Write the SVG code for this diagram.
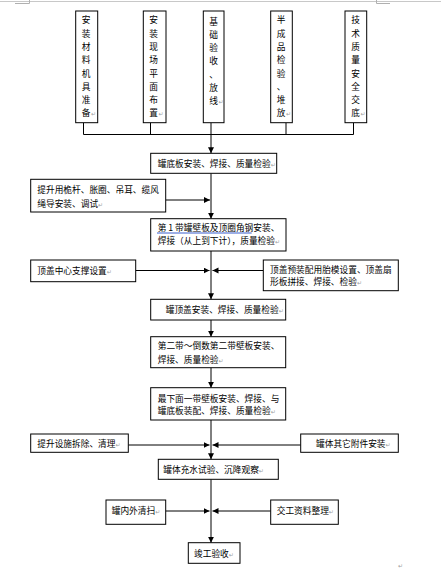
<svg xmlns="http://www.w3.org/2000/svg" width="441" height="576" viewBox="0 0 441 576">
<style>
.box{fill:#fff;stroke:#000;stroke-width:1}
.t{font-family:"Noto Sans CJK SC","Noto Sans CJK JP",sans-serif;font-size:8.7px;fill:#000}
.v{font-family:"Noto Sans CJK SC","Noto Sans CJK JP",sans-serif;font-size:8.7px;fill:#000;text-anchor:middle}
.p{fill:#a0a0a0;font-size:6px;font-family:"DejaVu Sans",sans-serif}
.ln{fill:none;stroke:#000;stroke-width:1}
.arr{fill:none;stroke:#000;stroke-width:1;marker-end:url(#ah)}
</style>
<defs>
<marker id="ah" markerUnits="userSpaceOnUse" markerWidth="8" markerHeight="8" refX="6" refY="3" orient="auto">
<path d="M0,0 L6,3 L0,6 Z" fill="#000"/>
</marker>
</defs>
<rect width="441" height="576" fill="#fff"/>
<g id="page">
<line x1="0" y1="1.5" x2="441" y2="1.5" stroke="#c8c8c8" stroke-width="1"/>
<path d="M15,3.5 H29.5 V0" fill="none" stroke="#b0b0b0" stroke-width="1"/>
<path d="M390,3.5 H376.5 V0" fill="none" stroke="#b0b0b0" stroke-width="1"/>
<text x="398" y="568" class="p">↵</text>
</g>
<g id="connectors">
<path class="ln" d="M83.5,122.7 V134.5 H353.5 V122.7 M150.5,122.7 V134.5 M211,122.7 V134.5 M286,122.7 V134.5"/>
<line class="arr" x1="211" y1="134.5" x2="211" y2="153.3"/>
<line class="arr" x1="211" y1="173.3" x2="211" y2="218.7"/>
<line class="arr" x1="165.7" y1="200" x2="210" y2="200"/>
<line class="arr" x1="211" y1="251" x2="211" y2="299.3"/>
<line class="arr" x1="135.7" y1="270.5" x2="209.5" y2="270.5"/>
<line class="arr" x1="263.3" y1="270.5" x2="212.5" y2="270.5"/>
<line class="arr" x1="211" y1="320" x2="211" y2="336.7"/>
<line class="arr" x1="211" y1="367.7" x2="211" y2="387.7"/>
<line class="arr" x1="211" y1="420" x2="211" y2="459.3"/>
<line class="arr" x1="128.3" y1="445" x2="209.5" y2="445"/>
<line class="arr" x1="300.7" y1="445" x2="212.5" y2="445"/>
<line class="arr" x1="211" y1="479.3" x2="211" y2="542.7"/>
<line class="arr" x1="165.7" y1="511" x2="209.5" y2="511"/>
<line class="arr" x1="270.7" y1="511" x2="212.5" y2="511"/>
</g>
<g id="n1">
<rect class="box" x="75.7" y="11" width="22" height="111.7"/>
<text class="v" x="86.2" y="23.3">安</text><text class="v" x="86.2" y="36.6">装</text><text class="v" x="86.2" y="49.9">材</text><text class="v" x="86.2" y="63.2">料</text><text class="v" x="86.2" y="76.5">机</text><text class="v" x="86.2" y="89.8">具</text><text class="v" x="86.2" y="103.1">准</text><text class="v" x="86.2" y="116.4">备</text>
<text class="p" x="91" y="116.4">↵</text>
</g>
<g id="n2">
<rect class="box" x="143.3" y="11" width="22.7" height="111.7"/>
<text class="v" x="153.5" y="23.3">安</text><text class="v" x="153.5" y="36.6">装</text><text class="v" x="153.5" y="49.9">现</text><text class="v" x="153.5" y="63.2">场</text><text class="v" x="153.5" y="76.5">平</text><text class="v" x="153.5" y="89.8">面</text><text class="v" x="153.5" y="103.1">布</text><text class="v" x="153.5" y="116.4">置</text>
<text class="p" x="158.5" y="116.4">↵</text>
</g>
<g id="n3">
<rect class="box" x="203.3" y="11" width="20.7" height="111.7"/>
<text class="v" x="213.5" y="24.5">基</text><text class="v" x="213.5" y="37.8">础</text><text class="v" x="213.5" y="51.1">验</text><text class="v" x="213.5" y="64.4">收</text><text class="v" x="213.5" y="77.7">、</text><text class="v" x="213.5" y="91">放</text><text class="v" x="213.5" y="103.5">线</text>
<text class="p" x="218.5" y="103.5">↵</text>
</g>
<g id="n4">
<rect class="box" x="270.7" y="11" width="21.6" height="111.7"/>
<text class="v" x="281" y="23.3">半</text><text class="v" x="281" y="36.6">成</text><text class="v" x="281" y="49.9">品</text><text class="v" x="281" y="63.2">检</text><text class="v" x="281" y="76.5">验</text><text class="v" x="281" y="89.8">、</text><text class="v" x="281" y="103.1">堆</text><text class="v" x="281" y="116.4">放</text>
<text class="p" x="286" y="116.4">↵</text>
</g>
<g id="n5">
<rect class="box" x="345" y="11" width="21.7" height="111.7"/>
<text class="v" x="355.5" y="23.3">技</text><text class="v" x="355.5" y="36.6">术</text><text class="v" x="355.5" y="49.9">质</text><text class="v" x="355.5" y="63.2">量</text><text class="v" x="355.5" y="76.5">安</text><text class="v" x="355.5" y="89.8">全</text><text class="v" x="355.5" y="103.1">交</text><text class="v" x="355.5" y="116.4">底</text>
<text class="p" x="360.5" y="116.4">↵</text>
</g>
<g id="n6">
<rect class="box" x="150.7" y="153.3" width="126" height="20"/>
<text class="t" x="157.7" y="166.6">罐底板安装、焊接、质量检验<tspan class="p">↵</tspan></text>
</g>
<g id="n7">
<rect class="box" x="30.7" y="179.3" width="135" height="32.7"/>
<text class="t" x="37.3" y="193.3">提升用桅杆、胀圈、吊耳、缆风</text>
<text class="t" x="37.3" y="206.6">绳导安装、调试<tspan class="p">↵</tspan></text>
</g>
<g id="n8">
<rect class="box" x="150.7" y="218.7" width="135.3" height="32.3"/>
<text class="t" x="157.7" y="231">第 1 带罐壁板及顶圈角钢安装、</text>
<line x1="157" y1="233" x2="251.7" y2="233" stroke="#3a5fcd" stroke-width="1"/>
<text class="t" x="157.7" y="244.3">焊接（从上到下计），质量检验<tspan class="p">↵</tspan></text>
</g>
<g id="n9">
<rect class="box" x="30.7" y="260" width="105" height="21.7"/>
<text class="t" x="37.3" y="274.2">顶盖中心支撑设置<tspan class="p">↵</tspan></text>
</g>
<g id="n10">
<rect class="box" x="263.3" y="260" width="135" height="30.7"/>
<text class="t" x="270" y="272.6">顶盖预装配用胎模设置、顶盖扇</text>
<text class="t" x="270" y="285">形板拼接、焊接、检验<tspan class="p">↵</tspan></text>
</g>
<g id="n11">
<rect class="box" x="150.7" y="299.3" width="135" height="20.7"/>
<text class="t" x="165.7" y="312.5">罐顶盖安装、焊接、质量检验<tspan class="p">↵</tspan></text>
</g>
<g id="n12">
<rect class="box" x="150.7" y="336.7" width="135" height="31"/>
<text class="t" x="157.7" y="349.3">第二带～倒数第二带壁板安装、</text>
<text class="t" x="157.7" y="362.6">焊接、质量检验<tspan class="p">↵</tspan></text>
</g>
<g id="n13">
<rect class="box" x="150.7" y="387.7" width="135" height="32.3"/>
<text class="t" x="157.7" y="401.6">最下面一带壁板安装、焊接、与</text>
<text class="t" x="157.7" y="414.3">罐底板装配、焊接、质量检验<tspan class="p">↵</tspan></text>
</g>
<g id="n14">
<rect class="box" x="30.7" y="434" width="97.6" height="18.3"/>
<text class="t" x="37.3" y="446.6">提升设施拆除、清理<tspan class="p">↵</tspan></text>
</g>
<g id="n15">
<rect class="box" x="300.7" y="434" width="97.6" height="18.3"/>
<text class="t" x="316" y="446.6">罐体其它附件安装<tspan class="p">↵</tspan></text>
</g>
<g id="n16">
<rect class="box" x="158.3" y="459.3" width="120" height="20"/>
<text class="t" x="163.3" y="473.3">罐体充水试验、沉降观察<tspan class="p">↵</tspan></text>
</g>
<g id="n17">
<rect class="box" x="106" y="500" width="59.7" height="24.3"/>
<text class="t" x="111.7" y="514.3">罐内外清扫<tspan class="p">↵</tspan></text>
</g>
<g id="n18">
<rect class="box" x="270.7" y="500" width="67.6" height="24.3"/>
<text class="t" x="276.7" y="514.3">交工资料整理<tspan class="p">↵</tspan></text>
</g>
<g id="n19">
<rect class="box" x="188.3" y="542.7" width="51.7" height="20.6"/>
<text class="t" x="194" y="556.6">竣工验收<tspan class="p">↵</tspan></text>
</g>
</svg>
